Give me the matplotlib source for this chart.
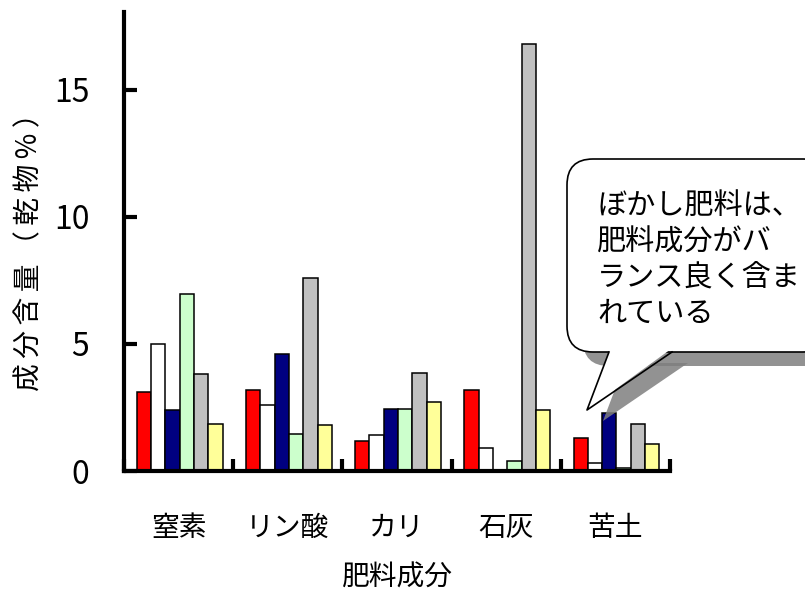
import matplotlib
matplotlib.use('Agg')
import matplotlib.pyplot as plt
from matplotlib.patches import FancyBboxPatch, Polygon
import numpy as np

plt.rcParams['font.family'] = ['Noto Sans CJK JP', 'DejaVu Sans']

categories = ['窒素', 'リン酸', 'カリ', '石灰', '苦土']
# 6 資材ごとの値（乾物%）
s_red    = [3.1, 3.2, 1.2, 3.2, 1.3]
s_white  = [5.0, 2.6, 1.4, 0.9, 0.3]
s_navy   = [2.4, 4.6, 2.45, 0.0, 2.3]
s_green  = [6.95, 1.45, 2.45, 0.4, 0.13]
s_gray   = [3.8, 7.6, 3.85, 16.8, 1.85]
s_yellow = [1.85, 1.8, 2.7, 2.4, 1.05]
series = [s_red, s_white, s_navy, s_green, s_gray, s_yellow]
colors = ['#FF0000', '#FFFFFF', '#000080', '#CCFFCC', '#C0C0C0', '#FFFF99']
yticks = [0, 5, 10, 15]
note = 'ぼかし肥料は、\n肥料成分がバ\nランス良く含ま\nれている'
ylabel = '成分含量（乾物%）'

fig = plt.figure(figsize=(8.05, 6), dpi=100)
ax = fig.add_axes([124/805, 1-471/600, 546/805, 459/600])

x = np.arange(len(categories))
w = 0.131
for i, (vals, c) in enumerate(zip(series, colors)):
    ax.bar(x - 2.5*w + i*w + 0.01, vals, width=w, color=c, edgecolor='black', linewidth=1.1, zorder=2)

ax.set_xlim(-0.5, len(categories) - 0.5)
ax.set_ylim(0, 18.07)
for s in ['top', 'right']:
    ax.spines[s].set_visible(False)
for s in ['left', 'bottom']:
    ax.spines[s].set_linewidth(3.0)
    ax.spines[s].set_zorder(3)

ax.set_yticks(yticks)
ax.set_yticklabels([str(v) for v in yticks])
ax.tick_params(axis='y', direction='in', length=9, width=3, labelsize=23, pad=25)
ax.set_xticks(x)
ax.set_xticklabels(categories)
ax.tick_params(axis='x', which='major', length=0, labelsize=20, pad=30)
ax.set_xticks(np.arange(len(categories) + 1) - 0.5, minor=True)
ax.tick_params(axis='x', which='minor', direction='in', length=9, width=3)

fig.text(397/805, 1-578/600, '肥料成分', ha='center', va='center', fontsize=20)
fig.text(29/805, 1-245/600, '\u2009'.join(ylabel), ha='center', va='center', fontsize=20, rotation=90)

# 吹き出し
ov = fig.add_axes([0, 0, 1, 1])
ov.set_xlim(0, 805)
ov.set_ylim(600, 0)
ov.axis('off')
ov.patch.set_alpha(0)

dx, dy = 16, 14
bx, by, bw, bh = 567, 159, 262, 193
tail = [(609, 352), (587, 410), (672, 352)]
ov.add_patch(FancyBboxPatch((bx+dx, by+dy), bw, bh, boxstyle='round,pad=0,rounding_size=26',
                            fc='#7f7f7f', ec='none', alpha=0.85))
ov.add_patch(Polygon([(p[0]+dx, p[1]+dy-3) for p in tail], closed=True, fc='#7f7f7f', ec='none', alpha=0.85))
ov.add_patch(FancyBboxPatch((bx, by), bw, bh, boxstyle='round,pad=0,rounding_size=26',
                            fc='white', ec='black', lw=1.2))
ov.add_patch(Polygon([(tail[0][0]+1, 349), tail[1], (tail[2][0]-1, 349)], closed=True, fc='white', ec='none'))
ov.plot([tail[0][0], tail[1][0], tail[2][0]], [tail[0][1], tail[1][1], tail[2][1]], color='black', lw=1.2)
ov.text(597, 260, note, ha='left', va='center', fontsize=21, linespacing=1.25)

fig.savefig('out.png', dpi=100)
